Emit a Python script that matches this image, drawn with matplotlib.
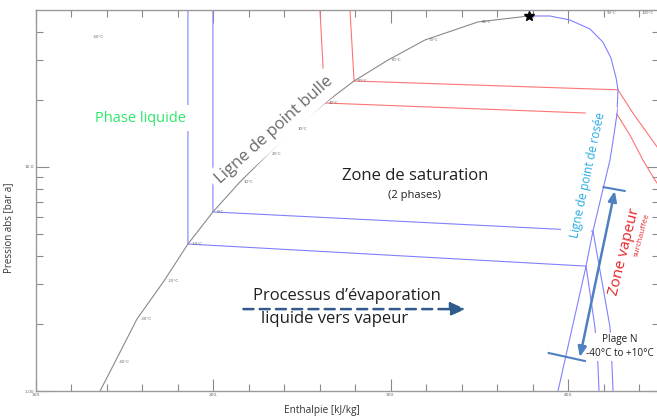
"""Pressure-enthalpy diagram of the refrigerant with the evaporation range marked."""
import matplotlib
matplotlib.use("Agg")
import matplotlib.pyplot as plt
from matplotlib.ticker import FixedLocator, MultipleLocator, NullFormatter, FixedFormatter

plt.rcParams["font.family"] = ["Open Sans", "DejaVu Sans"]

# saturated liquid (bubble) line, kJ/kg and bar a
bub_h = [136.1, 144.5, 156.9, 172.1, 185.6, 199.7, 214.9, 230.7, 245.4,
         262.8, 279.2, 298.3, 319.2, 349.0, 377.7]
bub_P = [1.00, 1.347, 2.096, 3.098, 4.53, 6.30, 8.57, 11.43, 14.78,
         19.30, 24.2, 30.0, 36.9, 44.4, 47.2]
bub_T = ["-40°C", "-30°C", "-20°C", "-10°C", "0°C", "10°C", "20°C", "30°C",
         "40°C", "50°C", "60°C", "70°C", "80°C"]

# saturated vapour (dew) line
dew_h = [377.7, 389.6, 400.8, 412.1, 419.4, 423.9, 426.8, 427.9, 427.3,
         425.6, 423.4, 413.8, 409.9, 394.1]
dew_P = [47.2, 47.2, 45.3, 41.3, 36.1, 30.7, 25.0, 22.1, 17.2,
         13.9, 10.75, 5.18, 3.61, 1.00]

crit_h, crit_P = 377.7, 47.2

# isotherms: liquid branch, two-phase, superheated vapour
iso_m10_h = [185.6, 185.6, 409.9, 414.9, 416.6, 417.2]
iso_m10_P = [55.0, 4.53, 3.61, 1.93, 1.306, 1.00]
iso_0_h = [199.7, 199.7, 413.8, 423.4, 424.5, 425.1]
iso_0_P = [55.0, 6.30, 5.18, 1.93, 1.306, 1.00]
iso_40_h = [260.0, 262.8, 427.3, 434.6, 441.9, 448.7, 454.4]
iso_40_P = [50.2, 19.30, 17.2, 13.9, 10.75, 8.75, 7.5]
iso_50_h = [276.9, 279.2, 427.9, 436.3, 449.9, 454.4]
iso_50_P = [50.2, 24.2, 22.1, 17.4, 12.3, 10.75]

x_major = [100, 200, 300, 400]
x_major_labels = ["100.", "200.", "300.", "400."]
y_major = [1, 10]
y_major_labels = ["1.00", "10.0"]

BLUE = "#8080ff"
RED = "#ff7373"
GREY = "#8a8a8a"

fig = plt.figure(figsize=(6.57, 4.19), dpi=100)
ax = fig.add_axes([36 / 657, 28 / 419, 623 / 657, 381 / 419])
ax.set_yscale("log")
ax.set_xlim(100, 451)
ax.set_ylim(1.0, 50.2)

ax.plot(iso_m10_h, iso_m10_P, color=BLUE, lw=0.8, zorder=2)
ax.plot(iso_0_h, iso_0_P, color=BLUE, lw=0.8, zorder=2)
ax.plot(iso_40_h, iso_40_P, color=RED, lw=0.8, zorder=2)
ax.plot(iso_50_h, iso_50_P, color=RED, lw=0.8, zorder=2)
ax.plot(bub_h, bub_P, color=GREY, lw=0.8, zorder=3)
ax.plot(dew_h, dew_P, color=BLUE, lw=0.8, zorder=3)
ax.plot([crit_h], [crit_P], marker="*", color="black", ms=7, zorder=5)

for t, h, p in zip(bub_T, bub_h[1:], bub_P[1:]):
    ax.annotate(t, (h, p), xytext=(2.5, 0), textcoords="offset points",
                fontsize=2.8, color="#666666", ha="left", va="center",
                family="DejaVu Sans", zorder=4)
for t, x, y in [("90°C", 0.924, 0.992), ("100°C", 0.982, 0.992), ("-40°C", 0.100, 0.929)]:
    ax.text(x, y, t, transform=ax.transAxes, fontsize=2.8, color="#666666",
            ha="center", va="center", family="DejaVu Sans")

# axes styling
for side in ["left", "bottom", "top"]:
    ax.spines[side].set_color("#9a9a9a")
    ax.spines[side].set_linewidth(1.0)
ax.spines["right"].set_visible(False)
ax.xaxis.set_major_locator(FixedLocator(x_major))
ax.xaxis.set_major_formatter(FixedFormatter(x_major_labels))
ax.xaxis.set_minor_locator(MultipleLocator(20))
ax.xaxis.set_minor_formatter(NullFormatter())
ax.yaxis.set_major_locator(FixedLocator(y_major))
ax.yaxis.set_major_formatter(FixedFormatter(y_major_labels))
ax.yaxis.set_minor_locator(FixedLocator([2, 3, 4, 5, 6, 7, 8, 9, 20, 30, 40]))
ax.yaxis.set_minor_formatter(NullFormatter())
ax.tick_params(which="both", direction="in", top=True, right=True,
               color="#8a8a8a", labelsize=3.2, labelcolor="#666666", pad=1.5)
ax.tick_params(which="major", length=9, width=0.8)
ax.tick_params(which="minor", length=5, width=0.8)
for lab in ax.get_xticklabels() + ax.get_yticklabels():
    lab.set_family("DejaVu Sans")

fig.text(9 / 657, 1 - 228 / 419, "Pression abs [bar a]", rotation=90,
         ha="center", va="center", fontsize=7, color="#333333")
fig.text(322 / 657, 1 - 410 / 419, "Enthalpie [kJ/kg]",
         ha="center", va="center", fontsize=7.2, color="#333333")

# region annotations
ax.text(0.1675, 0.7165, "Phase liquide", transform=ax.transAxes, fontsize=10.5,
        color="#2ee86b", ha="center", va="center",
        bbox=dict(facecolor="white", edgecolor="none", pad=4), zorder=6)
ax.text(0.383, 0.684, "Ligne de point bulle", transform=ax.transAxes, fontsize=12,
        color="#6a6a6a", ha="center", va="center", rotation=42,
        rotation_mode="anchor",
        bbox=dict(facecolor="white", edgecolor="none", pad=4), zorder=6)
ax.text(0.6087, 0.564, "Zone de saturation", transform=ax.transAxes, fontsize=12,
        color="#231f20", ha="center", va="center", zorder=6)
ax.text(0.607, 0.514, "(2 phases)", transform=ax.transAxes, fontsize=8,
        color="#231f20", ha="center", va="center", zorder=6)
ax.text(0.8857, 0.567, "Ligne de point de rosée", transform=ax.transAxes, fontsize=8.5,
        color="#29abe2", ha="center", va="center", rotation=78,
        rotation_mode="anchor", bbox=dict(facecolor="white", edgecolor="none", pad=6),
        zorder=6)
ax.text(0.945, 0.365, "Zone vapeur", transform=ax.transAxes, fontsize=11,
        color="#e5262b", ha="center", va="center", rotation=76,
        rotation_mode="anchor", zorder=6)
ax.text(0.972, 0.409, "surchauffée", transform=ax.transAxes, fontsize=5.8,
        color="#e5262b", ha="center", va="center", rotation=75,
        rotation_mode="anchor", zorder=6)
ax.text(0.499, 0.250, "Processus d’évaporation", transform=ax.transAxes, fontsize=12,
        color="#231f20", ha="center", va="center", zorder=6)
ax.text(0.480, 0.190, "liquide vers vapeur", transform=ax.transAxes, fontsize=12,
        color="#231f20", ha="center", va="center", zorder=6)
ax.annotate("", xy=(0.694, 0.215), xytext=(0.3285, 0.215), xycoords="axes fraction",
            arrowprops=dict(arrowstyle="-|>,head_length=0.9,head_width=0.4",
                            color="#2f5b8c", lw=1.8, linestyle=(0, (4, 2.5))),
            zorder=6)
ax.text(0.937, 0.116, "Plage N\n-40°C to +10°C", transform=ax.transAxes, fontsize=7.2,
        color="#231f20", ha="center", va="center", linespacing=1.4,
        bbox=dict(facecolor="white", edgecolor="none", pad=1), zorder=6)

# evaporating range arrow with end bars
ARROW = "#4f81c1"
ax.annotate("", xy=(0.929, 0.525), xytext=(0.873, 0.089), xycoords="axes fraction",
            arrowprops=dict(arrowstyle="<|-|>,head_length=0.6,head_width=0.25",
                            color=ARROW, lw=1.8, shrinkA=0, shrinkB=0), zorder=7)
ax.plot([0.911, 0.945], [0.535, 0.525], transform=ax.transAxes, color=ARROW,
        lw=1.5, zorder=7, clip_on=False)
ax.plot([0.823, 0.881], [0.0997, 0.0787], transform=ax.transAxes, color=ARROW,
        lw=1.5, zorder=7, clip_on=False)

fig.savefig("out.png", dpi=100)
